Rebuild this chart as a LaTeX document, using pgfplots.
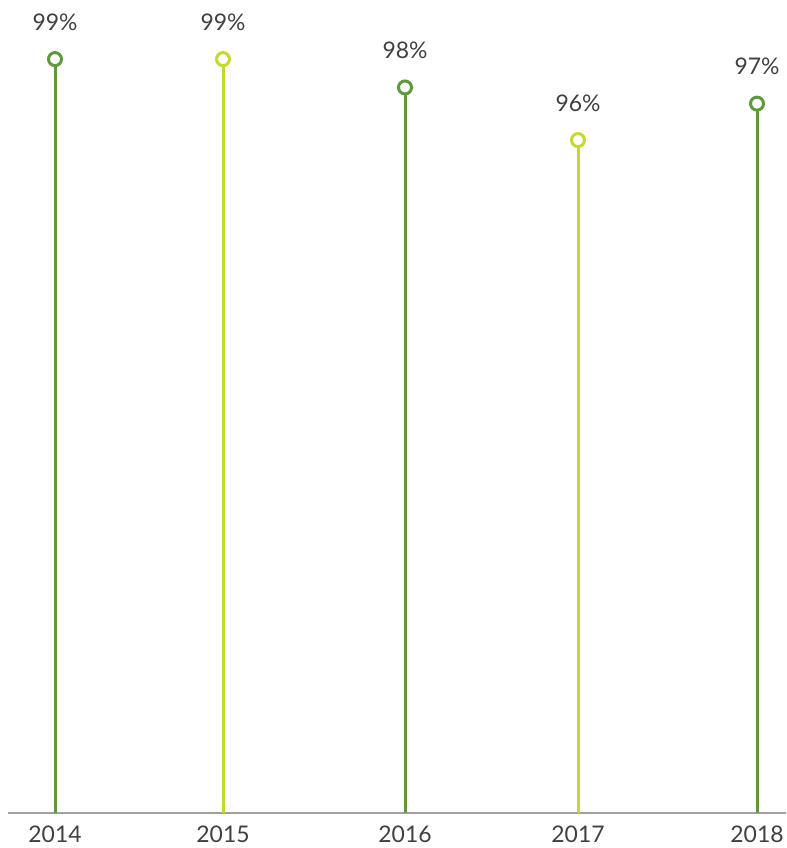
\documentclass[border=0pt]{standalone}
\usepackage{fontspec}
\setmainfont{Lato}
\usepackage{pgfplots}
\pgfplotsset{compat=1.18}
\definecolor{darkgreen}{HTML}{5E9A3C}
\definecolor{lime}{HTML}{C4D82E}
\definecolor{txt}{HTML}{404040}
\definecolor{base}{HTML}{A0A0A0}

\begin{document}
\begin{tikzpicture}
\begin{axis}[
    scale only axis,
    width=778bp, height=813bp,
    xmin=8, xmax=786,
    ymin=71.07, ymax=101.19,
    axis x line=bottom,
    axis y line=none,
    axis line style={-, base, line width=1.2bp},
    xtick={55,223,405,578,757},
    xticklabels={2014,2015,2016,2017,2018},
    major tick length=0pt,
    tick label style={font=\fontsize{23}{27}\selectfont, text=txt},
    xticklabel style={yshift=-9bp},
    /pgf/number format/assume math mode=true,
    nodes near coords,
    point meta=explicit symbolic,
    every node near coord/.style={anchor=base, yshift=29bp, inner sep=0pt,
        font=\fontsize{23}{27}\selectfont, text=txt},
]
\addplot[ycomb, darkgreen, line width=3bp, mark=*,
    mark options={fill=white, draw=darkgreen, line width=3bp}, mark size=6.5bp]
    coordinates {(55,99) [99\%] (405,97.95) [98\%] (757,97.35) [97\%]};
\addplot[ycomb, lime, line width=3bp, mark=*,
    mark options={fill=white, draw=lime, line width=3bp}, mark size=6.5bp]
    coordinates {(223,99) [99\%] (578,96) [96\%]};
\end{axis}
\path ([xshift=-8bp,yshift=-35bp]current axis.south west) rectangle (current axis.north east);
\end{tikzpicture}
\end{document}
